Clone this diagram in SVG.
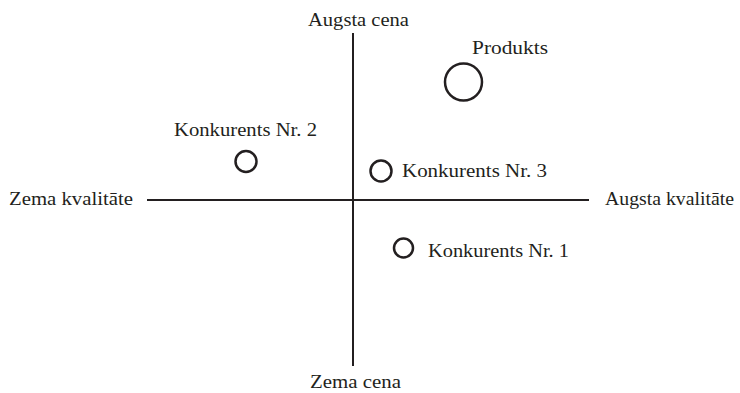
<svg xmlns="http://www.w3.org/2000/svg" width="740" height="393" viewBox="0 0 740 393">
<style>
text{font-family:"Liberation Serif","DejaVu Serif",serif;font-size:19px;fill:#231f20}
.ax{stroke:#231f20;stroke-width:2;fill:none}
.pt{stroke:#231f20;stroke-width:2.5;fill:#fff}
</style>
<rect width="740" height="393" fill="#fff"/>
<g id="connectors">
<line class="ax" x1="353" y1="33" x2="353" y2="366"/>
<line class="ax" x1="147" y1="200" x2="589" y2="200"/>
</g>
<g id="axis-labels">
<text x="308" y="26" textLength="101" lengthAdjust="spacingAndGlyphs">Augsta cena</text>
<text x="310" y="388" textLength="91" lengthAdjust="spacingAndGlyphs">Zema cena</text>
<text x="9" y="205" textLength="124" lengthAdjust="spacingAndGlyphs">Zema kvalitāte</text>
<text x="605" y="205" textLength="129" lengthAdjust="spacingAndGlyphs">Augsta kvalitāte</text>
</g>
<g id="produkts">
<circle class="pt" cx="463.5" cy="82" r="18.5" stroke-width="3"/>
<text x="472" y="54" textLength="76" lengthAdjust="spacingAndGlyphs">Produkts</text>
</g>
<g id="konkurents2">
<circle class="pt" cx="246" cy="161.5" r="10.5"/>
<text x="174" y="136" textLength="143" lengthAdjust="spacingAndGlyphs">Konkurents Nr. 2</text>
</g>
<g id="konkurents3">
<circle class="pt" cx="381" cy="171" r="10.5"/>
<text x="402" y="177" textLength="145" lengthAdjust="spacingAndGlyphs">Konkurents Nr. 3</text>
</g>
<g id="konkurents1">
<circle class="pt" cx="403.5" cy="248" r="9.5"/>
<text x="428" y="257" textLength="141" lengthAdjust="spacingAndGlyphs">Konkurents Nr. 1</text>
</g>
</svg>
